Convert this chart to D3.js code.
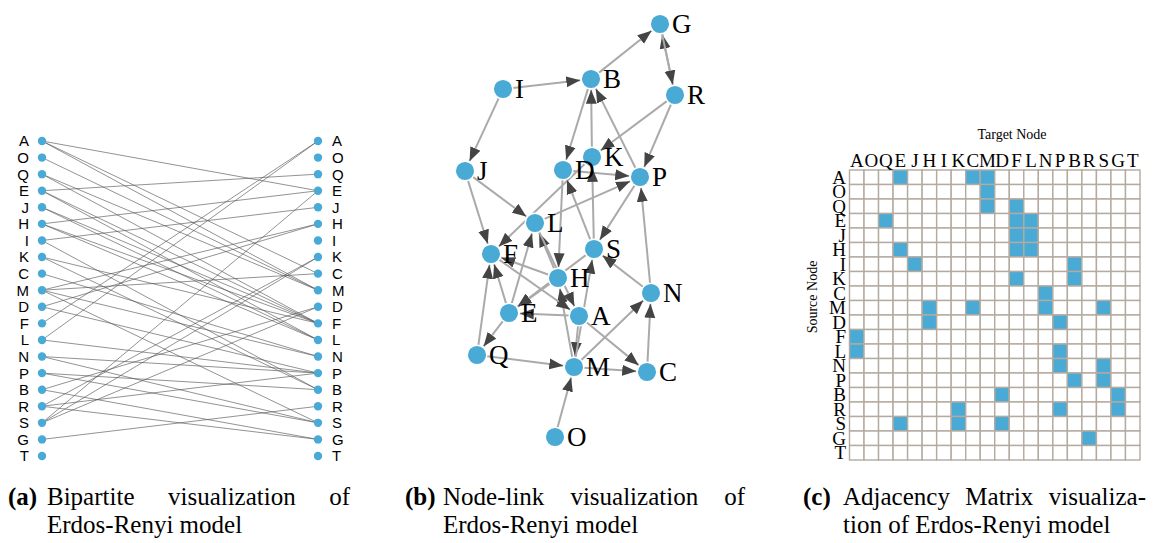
<!DOCTYPE html>
<html>
<head>
<meta charset="utf-8">
<script src="https://cdn.jsdelivr.net/npm/d3@7"></script>
<style>
  body { margin: 0; background: #fff; }
  text { fill: #000; }
</style>
</head>
<body>
<script>
// node order used by all three panels
const nodes = ["A","O","Q","E","J","H","I","K","C","M","D","F","L","N","P","B","R","S","G","T"];

// directed edges [source, target]
const edges = [
  ["A","E"],["A","C"],["A","M"],
  ["O","M"],
  ["Q","M"],["Q","F"],
  ["E","Q"],["E","F"],["E","L"],
  ["J","F"],["J","L"],
  ["H","E"],["H","F"],["H","L"],
  ["I","J"],["I","B"],
  ["K","F"],["K","B"],
  ["C","N"],
  ["M","H"],["M","C"],["M","N"],["M","S"],
  ["D","H"],["D","P"],
  ["F","A"],
  ["L","A"],["L","P"],
  ["N","P"],["N","S"],
  ["P","B"],["P","S"],
  ["B","D"],["B","G"],
  ["R","K"],["R","P"],["R","G"],
  ["S","E"],["S","K"],["S","D"],
  ["G","R"]
];

// node-link layout (layout units), same order as nodes; T is not placed
const layoutX = [114, 90, 12, 44, 0, 93, 38, 127, 182, 109, 98, 26, 70, 186, 175, 126, 210, 129, 195, null];
const layoutY = [292, 413, 331, 289, 147, 254, 65, 133, 348, 343, 146, 230, 199, 269, 153, 55, 71, 225, 0, null];

const captions = [
  { tag: "(a)", line1: "Bipartite visualization of", line2: "Erdos-Renyi model" },
  { tag: "(b)", line1: "Node-link visualization of", line2: "Erdos-Renyi model" },
  { tag: "(c)", line1: "Adjacency Matrix visualiza-", line2: "tion of Erdos-Renyi model" }
];

const blue = "#4aaad6";
const serif = "'Liberation Serif', 'Times New Roman', serif";
const sans = "'Liberation Sans', Arial, sans-serif";

const svg = d3.select("body").append("svg")
    .attr("width", 1153)
    .attr("height", 543);

// ---------- (a) bipartite ----------
const gA = svg.append("g");
const yA = d3.scalePoint().domain(nodes).range([141, 456]);
const xA = d3.scalePoint().domain(["src", "tgt"]).range([42, 318]);

gA.selectAll("line")
  .data(edges)
  .join("line")
    .attr("x1", xA("src"))
    .attr("y1", d => yA(d[0]))
    .attr("x2", xA("tgt"))
    .attr("y2", d => yA(d[1]))
    .attr("stroke", "#555")
    .attr("stroke-opacity", 0.85)
    .attr("stroke-width", 0.75);

["src", "tgt"].forEach(side => {
  gA.append("g").selectAll("circle")
    .data(nodes)
    .join("circle")
      .attr("cx", xA(side))
      .attr("cy", d => yA(d))
      .attr("r", 4.2)
      .attr("fill", blue);
  gA.append("g").selectAll("text")
    .data(nodes)
    .join("text")
      .attr("x", side === "src" ? xA(side) - 13 : xA(side) + 14)
      .attr("y", d => yA(d))
      .attr("dy", "0.36em")
      .attr("text-anchor", side === "src" ? "end" : "start")
      .style("font-family", sans)
      .style("font-size", "15px")
      .text(d => d);
});

// ---------- (b) node-link ----------
const gB = svg.append("g");
const xB = d3.scaleLinear().domain([0, 210]).range([465, 675]);
const yB = d3.scaleLinear().domain([0, 413]).range([24, 437]);
const R = 9.8;

const pos = {};
nodes.forEach((n, i) => {
  if (layoutX[i] != null) pos[n] = { x: xB(layoutX[i]), y: yB(layoutY[i]) };
});

svg.append("defs").append("marker")
    .attr("id", "arrow")
    .attr("viewBox", "0 -6 14 12")
    .attr("refX", 14)
    .attr("refY", 0)
    .attr("markerUnits", "userSpaceOnUse")
    .attr("markerWidth", 14)
    .attr("markerHeight", 12)
    .attr("orient", "auto")
  .append("path")
    .attr("d", "M0,-5.5L14,0L0,5.5Z")
    .attr("fill", "#444");

gB.append("g").selectAll("line")
  .data(edges)
  .join("line")
    .each(function (d) {
      const s = pos[d[0]], t = pos[d[1]];
      const dx = t.x - s.x, dy = t.y - s.y, len = Math.hypot(dx, dy);
      const ux = dx / len, uy = dy / len;
      d3.select(this)
        .attr("x1", s.x + ux * R)
        .attr("y1", s.y + uy * R)
        .attr("x2", t.x - ux * (R + 1))
        .attr("y2", t.y - uy * (R + 1));
    })
    .attr("stroke", "#aaa")
    .attr("stroke-width", 2)
    .attr("marker-end", "url(#arrow)");

const placed = nodes.filter(n => pos[n]);
gB.append("g").selectAll("circle")
  .data(placed)
  .join("circle")
    .attr("cx", d => pos[d].x)
    .attr("cy", d => pos[d].y)
    .attr("r", R)
    .attr("fill", blue)
    .attr("stroke", "#fff")
    .attr("stroke-width", 1.5);

gB.append("g").selectAll("text")
  .data(placed)
  .join("text")
    .attr("x", d => pos[d].x + 12)
    .attr("y", d => pos[d].y + 9)
    .style("font-family", serif)
    .style("font-size", "27px")
    .text(d => d);

// ---------- (c) adjacency matrix ----------
const gC = svg.append("g");
const xC = d3.scaleBand().domain(nodes).range([849.5, 1140]);
const yC = d3.scaleBand().domain(nodes).range([170, 460]);
const cells = d3.cross(nodes, nodes); // [row, col]
const edgeSet = new Set(edges.map(e => e[0] + ">" + e[1]));

gC.selectAll("rect")
  .data(cells)
  .join("rect")
    .attr("x", d => xC(d[1]))
    .attr("y", d => yC(d[0]))
    .attr("width", xC.bandwidth())
    .attr("height", yC.bandwidth())
    .attr("fill", d => edgeSet.has(d[0] + ">" + d[1]) ? blue : "#fff")
    .attr("stroke", "#b3aaa0")
    .attr("stroke-width", 1.4);

gC.append("g").selectAll("text")
  .data(nodes)
  .join("text")
    .attr("x", d => xC(d) + xC.bandwidth() / 2)
    .attr("y", 167)
    .attr("text-anchor", "middle")
    .style("font-family", serif)
    .style("font-size", "19px")
    .text(d => d);

gC.append("g").selectAll("text")
  .data(nodes)
  .join("text")
    .attr("x", 846)
    .attr("y", d => yC(d) + yC.bandwidth() / 2)
    .attr("dy", "0.35em")
    .attr("text-anchor", "end")
    .style("font-family", serif)
    .style("font-size", "19px")
    .text(d => d);

gC.append("text")
    .attr("x", 1012)
    .attr("y", 139)
    .attr("text-anchor", "middle")
    .style("font-family", serif)
    .style("font-size", "14px")
    .text("Target Node");

gC.append("text")
    .attr("transform", "translate(817,297) rotate(-90)")
    .attr("text-anchor", "middle")
    .style("font-family", serif)
    .style("font-size", "14px")
    .text("Source Node");

// ---------- captions (tag + justified first line) ----------
const capBox = [
  { x0: 8, x1: 350, indent: 47 },
  { x0: 405, x1: 745, indent: 443 },
  { x0: 803, x1: 1146, indent: 843 }
];

captions.forEach((c, i) => {
  const box = capBox[i];
  const g = svg.append("g").style("font-family", serif).style("font-size", "25px");
  g.append("text")
      .attr("x", box.x0)
      .attr("y", 505)
      .style("font-weight", "bold")
      .text(c.tag);
  const words = c.line1.split(" ");
  const texts = words.map(w => g.append("text").attr("y", 505).text(w));
  const widths = texts.map(t => t.node().getComputedTextLength());
  const gap = (box.x1 - box.indent - d3.sum(widths)) / (words.length - 1);
  let x = box.indent;
  texts.forEach((t, j) => { t.attr("x", x); x += widths[j] + gap; });
  g.append("text")
      .attr("x", box.indent)
      .attr("y", 533)
      .text(c.line2);
});
</script>
</body>
</html>
